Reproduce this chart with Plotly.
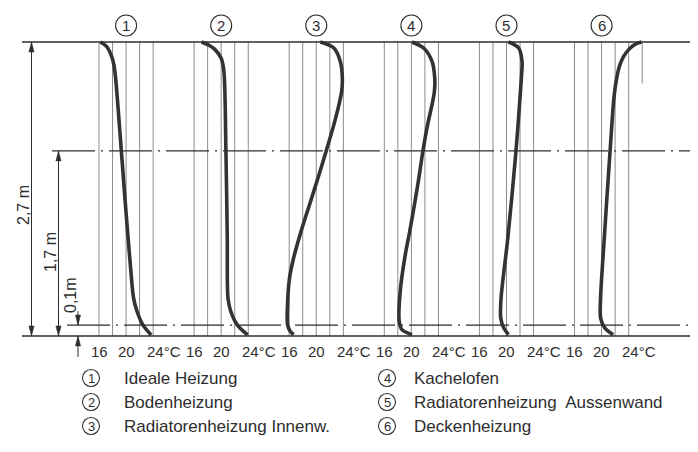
import plotly.graph_objects as go

# ---------------- data ----------------
PANEL_NUMBERS = ["1", "2", "3", "4", "5", "6"]
LEGEND_NAMES = ["Ideale Heizung", "Bodenheizung", "Radiatorenheizung Innenw.",
                "Kachelofen", "Radiatorenheizung  Aussenwand", "Deckenheizung"]
GRID_TEMPS = [16, 18, 20, 22, 24]
TICK_TEMPS = [16, 20, 24]
TICK_LABELS = ["16", "20", "24°C"]
DIM_LABELS = ["2,7 m", "1,7 m", "0,1m"]
ROOM_HEIGHT = 2.7
LEVELS = [1.7, 0.1]

# height (m) and temperature (°C) of each profile
h1 = [2.70, 2.66, 2.58, 2.49, 2.37, 1.70, 1.21, 0.60, 0.35, 0.23, 0.10, 0.01]
t1 = [16.2, 17.1, 17.8, 18.2, 18.45, 19.3, 19.9, 20.7, 21.1, 21.6, 22.5, 23.7]

h2 = [2.70, 2.67, 2.63, 2.55, 2.43, 1.70, 0.90, 0.35, 0.23, 0.10, 0.01]
t2 = [17.1, 18.2, 19.1, 20.0, 20.4, 20.7, 20.9, 21.0, 21.4, 22.4, 23.9]

h3 = [2.70, 2.645, 2.522, 2.369, 2.247, 2.124, 1.941, 1.696, 1.451, 1.206,
      0.961, 0.716, 0.533, 0.288, 0.104, 0.043, 0.012]
t3 = [20.6, 22.6, 23.55, 23.85, 23.75, 23.35, 22.6, 21.45, 20.25, 19.0,
      17.75, 16.65, 16.05, 15.75, 15.75, 16.15, 16.65]

h4 = [2.70, 2.645, 2.522, 2.369, 2.247, 2.124, 1.941, 1.696, 1.45, 1.206,
      0.96, 0.747, 0.410, 0.135, 0.058, 0.012]
t4 = [20.1, 21.8, 23.05, 23.45, 23.4, 23.05, 22.4, 21.7, 21.1, 20.45,
      19.75, 19.1, 18.35, 18.2, 18.6, 20.1]

h5 = [2.70, 2.645, 2.522, 2.369, 1.696, 0.900, 0.349, 0.165, 0.073, 0.012]
t5 = [20.3, 21.8, 22.3, 22.2, 21.4, 20.2, 19.2, 19.15, 19.6, 20.3]

h6 = [2.70, 2.68, 2.63, 2.56, 2.47, 2.32, 2.17, 1.696, 0.90, 0.349, 0.165,
      0.073, 0.012]
t6 = [25.9, 25.0, 24.0, 23.2, 22.6, 22.1, 21.8, 21.25, 20.4, 19.85, 19.85,
      20.5, 21.7]

EXTRA_MARK_TEMP = 26      # short vertical line in panel 6
EXTRA_MARK_FROM = 2.32

heights = [h1, h2, h3, h4, h5, h6]
temps = [t1, t2, t3, t4, t5, t6]

# ---------------- layout constants ----------------
VIEW_W, VIEW_H = 698, 452
PAGE_OFFSET = 8                      # default body margin of the page
W, H = VIEW_W - PAGE_OFFSET, VIEW_H - 2 * PAGE_OFFSET
PX_PER_C = 6.77
X16_PX = 99.0
PANEL_STEP_PX = 95.1
FLOOR_PX = 336.0
PX_PER_M = 108.89
PANEL_SHIFT = PANEL_STEP_PX / PX_PER_C

INK = "#2e2e2e"
GRID = "#8c8c8c"
FONT = "Liberation Sans"


def xd(px):
    """screen x pixel -> x data value"""
    return 16 + (px - X16_PX) / PX_PER_C


def yd(px):
    """screen y pixel -> height data value"""
    return (FLOOR_PX - px) / PX_PER_M


fig = go.Figure()

# profiles
for k in range(6):
    fig.add_trace(go.Scatter(
        x=[t + k * PANEL_SHIFT for t in temps[k]], y=heights[k],
        mode="lines", line=dict(color="#333333", width=3.6, shape="spline", smoothing=0.8),
        hoverinfo="skip", showlegend=False))

shapes = []
annotations = []

# grid lines
for k in range(6):
    for t in GRID_TEMPS:
        shapes.append(dict(type="line", xref="x", yref="y",
                           x0=t + k * PANEL_SHIFT, x1=t + k * PANEL_SHIFT,
                           y0=0, y1=ROOM_HEIGHT, line=dict(color=GRID, width=1), layer="below"))
shapes.append(dict(type="line", xref="x", yref="y",
                   x0=EXTRA_MARK_TEMP + 5 * PANEL_SHIFT, x1=EXTRA_MARK_TEMP + 5 * PANEL_SHIFT,
                   y0=EXTRA_MARK_FROM, y1=ROOM_HEIGHT, line=dict(color=GRID, width=1), layer="below"))

# floor and ceiling
for yy in (0, ROOM_HEIGHT):
    shapes.append(dict(type="line", xref="x", yref="y", x0=xd(22), x1=xd(VIEW_W),
                       y0=yy, y1=yy, line=dict(color=INK, width=1.6)))

# dash-dot levels
for lv, start in zip(LEVELS, (52, 67)):
    shapes.append(dict(type="line", xref="x", yref="y", x0=xd(start), x1=xd(VIEW_W),
                       y0=lv, y1=lv, line=dict(color=INK, width=1.3, dash="43px,6px,2px,6px")))


# dimension lines
def vline(px, y0, y1, w=1.0):
    shapes.append(dict(type="line", xref="x", yref="y", x0=xd(px), x1=xd(px),
                       y0=y0, y1=y1, line=dict(color=INK, width=w)))


def arrow(px, ytip, up):
    L = 10 / PX_PER_M
    hw = 2.6 / PX_PER_C
    s = -1 if up else 1
    x = xd(px)
    yb = ytip + s * L
    shapes.append(dict(type="path", xref="x", yref="y",
                       path=f"M{x},{ytip} L{x - hw},{yb} L{x + hw},{yb} Z",
                       fillcolor=INK, line=dict(color=INK, width=0.5)))


vline(31.5, 0, ROOM_HEIGHT)
arrow(31.5, ROOM_HEIGHT, True)
arrow(31.5, 0, False)
vline(58.5, 0, LEVELS[0])
arrow(58.5, LEVELS[0], True)
arrow(58.5, 0, False)
vline(78, LEVELS[1], yd(311))
arrow(78, LEVELS[1], False)
vline(78, yd(357), 0)
arrow(78, 0, True)

for txt, px, py in zip(DIM_LABELS, (23, 50, 70), (205, 252, 295)):
    annotations.append(dict(x=xd(px), y=yd(py), xref="x", yref="y", text=txt,
                            textangle=-90, showarrow=False, xanchor="center", yanchor="middle",
                            font=dict(family=FONT, size=16, color=INK)))

# tick labels
for k in range(6):
    for t, lab in zip(TICK_TEMPS, TICK_LABELS):
        a = dict(x=t + k * PANEL_SHIFT, y=yd(351), xref="x", yref="y", text=lab,
                 showarrow=False, xanchor="center", yanchor="middle",
                 font=dict(family=FONT, size=15, color=INK))
        if lab.endswith("C"):
            a.update(xanchor="left", xshift=-8.5)
        annotations.append(a)

# panel numbers in circles
for k, num in enumerate(PANEL_NUMBERS):
    cx = 20 + k * PANEL_SHIFT
    cy = yd(25.5)
    shapes.append(dict(type="circle", xref="x", yref="y", xsizemode="pixel", ysizemode="pixel",
                       xanchor=cx, yanchor=cy, x0=-10.5, x1=10.5, y0=-10.5, y1=10.5,
                       line=dict(color=INK, width=1.1)))
    annotations.append(dict(x=cx, y=cy, xref="x", yref="y", text=num, showarrow=False,
                            xanchor="center", yanchor="middle",
                            font=dict(family=FONT, size=15, color=INK)))

# legend
for i, name in enumerate(LEGEND_NAMES):
    col, row = divmod(i, 3)
    cx = xd((91, 387)[col])
    tx = xd((122, 412)[col])
    cy = yd(378 + 24 * row)
    shapes.append(dict(type="circle", xref="x", yref="y", xsizemode="pixel",
                       ysizemode="pixel", xanchor=cx, yanchor=cy,
                       x0=-8.5, x1=8.5, y0=-8.5, y1=8.5, line=dict(color=INK, width=1.1)))
    annotations.append(dict(x=cx, y=cy, xref="x", yref="y", text=PANEL_NUMBERS[i],
                            showarrow=False, xanchor="center", yanchor="middle",
                            font=dict(family=FONT, size=13, color=INK)))
    annotations.append(dict(x=tx, y=cy, xref="x", yref="y",
                            text=name.replace("  ", "&nbsp; "), showarrow=False,
                            xanchor="left", yanchor="middle",
                            font=dict(family=FONT, size=17, color=INK)))

fig.update_layout(
    width=W, height=H, autosize=False,
    margin=dict(l=0, r=0, t=0, b=0),
    paper_bgcolor="white", plot_bgcolor="white",
    xaxis=dict(range=[xd(PAGE_OFFSET), xd(PAGE_OFFSET + W)], visible=False, fixedrange=True),
    yaxis=dict(range=[yd(PAGE_OFFSET + H), yd(PAGE_OFFSET)], visible=False, fixedrange=True),
    shapes=shapes, annotations=annotations, showlegend=False,
)

fig.write_html("out.html")
